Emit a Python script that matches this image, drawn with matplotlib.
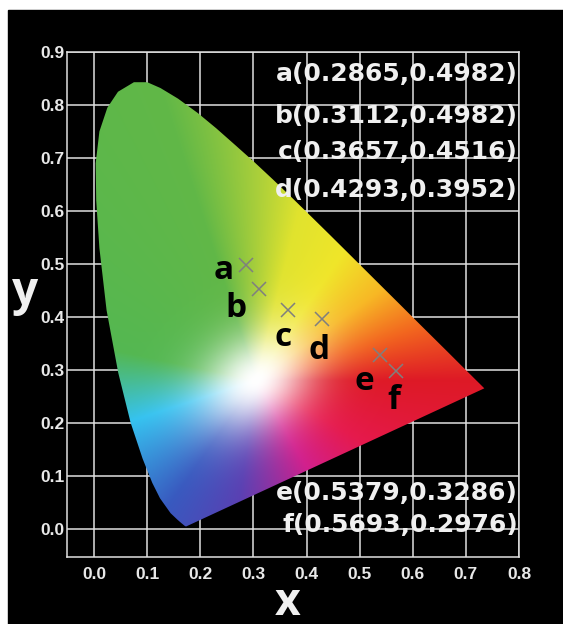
import numpy as np
import matplotlib.pyplot as plt
from matplotlib.patches import Polygon, Rectangle

# spectral locus of the chromaticity diagram (380 nm ... 700 nm)
locus_x = [0.1741, 0.1733, 0.1714, 0.1644, 0.1566, 0.1440, 0.1241, 0.1096, 0.0913,
           0.0687, 0.0454, 0.0235, 0.0100, 0.0040, 0.0030, 0.0100, 0.0250, 0.0450,
           0.0750, 0.1000, 0.1250, 0.1580, 0.1950, 0.2300, 0.2658, 0.3016, 0.3373,
           0.3731, 0.4087, 0.4441, 0.4788, 0.5125, 0.5448, 0.5752, 0.6029, 0.6270,
           0.6658, 0.6915, 0.7079, 0.7190, 0.7260, 0.7300, 0.7334, 0.7347]
locus_y = [0.0050, 0.0048, 0.0051, 0.0109, 0.0177, 0.0297, 0.0578, 0.0868, 0.1327,
           0.2007, 0.2950, 0.4127, 0.5300, 0.6200, 0.6900, 0.7500, 0.7950, 0.8250,
           0.8430, 0.8430, 0.8320, 0.8120, 0.7850, 0.7560, 0.7243, 0.6923, 0.6589,
           0.6245, 0.5896, 0.5547, 0.5202, 0.4866, 0.4544, 0.4242, 0.3965, 0.3725,
           0.3340, 0.3083, 0.2920, 0.2809, 0.2740, 0.2700, 0.2666, 0.2653]

point_names = ['a', 'b', 'c', 'd', 'e', 'f']
point_x = [0.2865, 0.3112, 0.3657, 0.4293, 0.5379, 0.5693]
point_y = [0.4982, 0.4530, 0.4130, 0.3952, 0.3286, 0.2976]
coord_labels = ['a(0.2865,0.4982)', 'b(0.3112,0.4982)', 'c(0.3657,0.4516)',
                'd(0.4293,0.3952)', 'e(0.5379,0.3286)', 'f(0.5693,0.2976)']

x_ticks = [0.0, 0.1, 0.2, 0.3, 0.4, 0.5, 0.6, 0.7, 0.8]
y_ticks = [0.0, 0.1, 0.2, 0.3, 0.4, 0.5, 0.6, 0.7, 0.8, 0.9]

# hue wheel used for the fill, angle (deg) seen from the white spot
hue_ang = [0, 18, 36, 56, 76, 90, 108, 168, 198, 235, 262, 300, 330]
hue_col = [(0.87, 0.10, 0.15), (0.95, 0.40, 0.12), (0.97, 0.72, 0.14),
           (0.94, 0.90, 0.16), (0.88, 0.89, 0.18), (0.66, 0.81, 0.23),
           (0.38, 0.72, 0.28), (0.33, 0.72, 0.32), (0.20, 0.76, 0.94),
           (0.22, 0.35, 0.75), (0.35, 0.25, 0.70), (0.82, 0.12, 0.55),
           (0.90, 0.10, 0.30)]
white_x, white_y = 0.305, 0.28

fig = plt.figure(figsize=(5.63, 6.24), dpi=100, facecolor='white')
fig.patches.append(Rectangle((8 / 563, 0), 1, 614 / 624, transform=fig.transFigure,
                             color='black', zorder=-5))
ax = fig.add_axes([67 / 563, 1 - 557 / 624, 452 / 563, 505 / 624])
ax.set_facecolor('black')
ax.set_xlim(-0.051, 0.8)
ax.set_ylim(-0.053, 0.9)

gx, gy = np.meshgrid(np.linspace(0.0, 0.75, 500), np.linspace(0.0, 0.86, 500))
dx, dy = gx - white_x, gy - white_y
ang = np.degrees(np.arctan2(dy, dx)) % 360
cols = np.array(hue_col)
rgb = np.stack([np.interp(ang, hue_ang, cols[:, k], period=360) for k in range(3)], axis=-1)
c, s = np.cos(np.radians(35)), np.sin(np.radians(35))
u = dx * c + dy * s
v = -dx * s + dy * c
d = np.hypot(u / 1.4, v)
sat = 1 - np.exp(-(d / 0.085) ** 2)
rgb = 1 - sat[..., None] * (1 - rgb)

img = ax.imshow(rgb, origin='lower', extent=(0.0, 0.75, 0.0, 0.86),
                interpolation='bilinear', zorder=2, aspect='auto')
locus = Polygon(np.column_stack([locus_x, locus_y]), closed=True,
                transform=ax.transData, fc='none', ec='none')
ax.add_patch(locus)
img.set_clip_path(locus)

ax.set_xticks(x_ticks)
ax.set_yticks(y_ticks)
ax.set_xticklabels(['%.1f' % v for v in x_ticks])
ax.set_yticklabels(['%.1f' % v for v in y_ticks])
ax.grid(True, color='#e0e0e0', linewidth=1.1, zorder=1)
ax.set_axisbelow(True)
for sp in ax.spines.values():
    sp.set_color('#e0e0e0')
    sp.set_linewidth(1.1)
ax.tick_params(length=0, colors='#e8e8e8', labelsize=12.5)
ax.tick_params(axis='x', pad=7)
ax.tick_params(axis='y', pad=2)
for lab in ax.get_xticklabels() + ax.get_yticklabels():
    lab.set_fontfamily('Liberation Sans')
    lab.set_fontweight('bold')

ax.plot(point_x, point_y, 'x', color='#7f7f7f', markersize=10, mew=1.1, zorder=4)

letter_offsets = [(-16, -4), (-17, -14), (-4, -20), (-2, -22), (-11, -19), (-2, -21)]
for name, px, py, off in zip(point_names, point_x, point_y, letter_offsets):
    ax.annotate(name, (px, py), xytext=off, textcoords='offset points',
                ha='center', va='center', fontsize=24, fontweight='bold',
                family='Open Sans', color='black', zorder=5)

text_y = [0.956, 0.873, 0.802, 0.727, 0.127, 0.063]
for lab, ty in zip(coord_labels, text_y):
    ax.text(0.998, ty, lab, transform=ax.transAxes, ha='right', va='center',
            fontsize=18, fontweight='bold', family='DejaVu Sans', color='#f0f0f0',
            zorder=6)

fig.text(288 / 563, 1 - 615 / 624, 'x', ha='center', va='baseline', fontsize=32,
         fontweight='bold', family='Open Sans', color='#f0f0f0')
fig.text(25 / 563, 1 - 292 / 624, 'y', ha='center', va='center', fontsize=33,
         fontweight='bold', family='Open Sans', color='#f0f0f0')

fig.savefig('out.png', dpi=100, facecolor='white')
